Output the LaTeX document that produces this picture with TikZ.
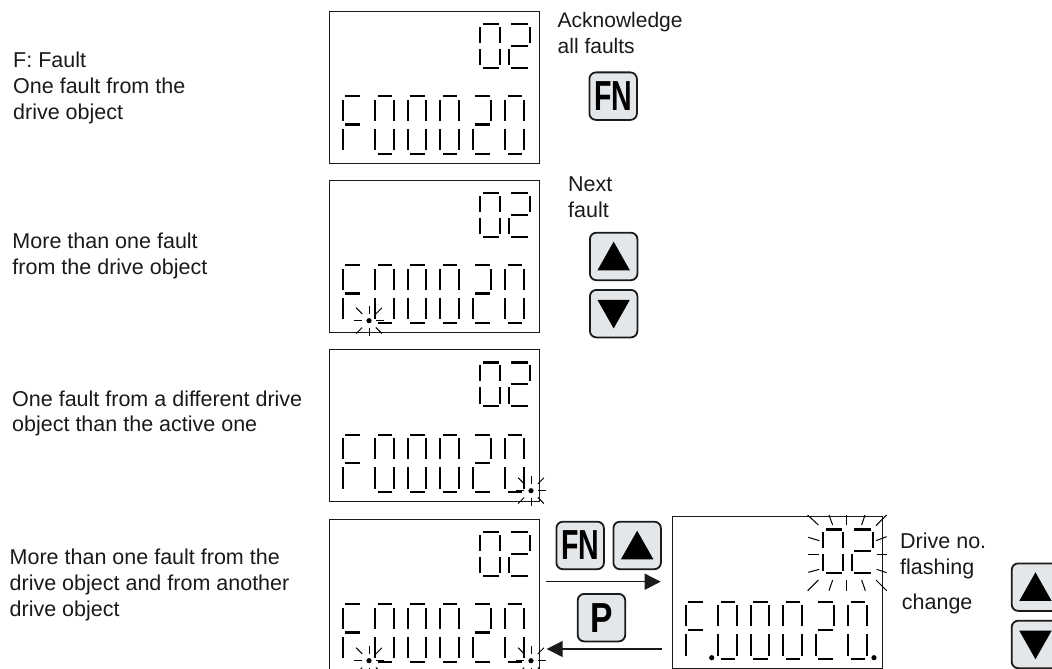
\documentclass[tikz,border=0pt]{standalone}
\usepackage{fontspec}
\setmainfont{Liberation Sans}
\usetikzlibrary{arrows.meta}
\definecolor{ink}{HTML}{1A1A1A}
\definecolor{keyfill}{HTML}{E3E7EA}
\tikzset{
  panel/.style={draw=ink,line width=1.1pt,anchor=north west,inner sep=0pt,minimum width=210pt,minimum height=152pt},
  seg/.style={draw=black,line width=2.1pt},
  ray/.style={draw=black,line width=1pt},
  keybtn/.style={draw=ink,line width=1.8pt,fill=keyfill,rounded corners=6.5pt,minimum width=47.5pt,minimum height=47.5pt,inner sep=0pt,anchor=north west,font=\fontsize{42}{42}\selectfont\bfseries},
  lbl/.style={anchor=base west,inner sep=0pt,align=left,text=ink,font=\fontsize{21.5}{25.6}\selectfont},
  flow/.style={draw=ink,line width=1.1pt,-{Triangle[length=16pt,width=16pt]}}
}
\def\sA{(\dw*.13,0)--(\dw*.92,0)}
\def\sG{(\dw*.13,\dh*.49)--(\dw*.92,\dh*.49)}
\def\sD{(\dw*.13,\dh)--(\dw*.92,\dh)}
\def\sF{(0,\dh*.06)--(0,\dh*.43)}
\def\sE{(0,\dh*.56)--(0,\dh*.94)}
\def\sB{(\dw,\dh*.06)--(\dw,\dh*.43)}
\def\sC{(\dw,\dh*.56)--(\dw,\dh*.94)}
\newcommand{\DigF}[2]{\draw[seg,shift={(#1,#2)}] \sA \sF \sG \sE;}
\newcommand{\DigO}[2]{\draw[seg,shift={(#1,#2)}] \sA \sF \sB \sE \sC \sD;}
\newcommand{\DigT}[2]{\draw[seg,shift={(#1,#2)}] \sA \sB \sG \sE \sD;}
% digits of a display whose top-left corner is (#1,#2)
\newcommand{\Readout}[2]{%
  \def\dw{20}\def\dh{43.7}%
  \DigO{#1+151}{#2+13.2}%
  \def\dw{21}%
  \DigT{#1+179.3}{#2+13.2}%
  \def\dw{18.4}\def\dh{57.4}%
  \DigF{#1+13.7}{#2+85.4}%
  \DigO{#1+46}{#2+85.4}%
  \DigO{#1+78.4}{#2+85.4}%
  \DigO{#1+111}{#2+85.4}%
  \DigT{#1+143.6}{#2+85.4}%
  \DigO{#1+176}{#2+85.4}%
}
\newcommand{\Flash}[2]{%
  \fill[black] (#1,#2) circle (2.6pt);
  \foreach \a in {0,90,180,270} \draw[ray,shift={(#1,#2)}] (\a:7pt) -- (\a:15pt);
  \foreach \a in {45,135,225,315} \draw[ray,shift={(#1,#2)}] (\a:9.6pt) -- (\a:18.2pt);
}
\newcommand{\KeyUp}[3]{%
  \node[keybtn] (#1) at (#2,#3) {};
  \fill[black] ([shift={(0pt,14.8pt)}]#1.center) -- ([shift={(-16.2pt,-13.8pt)}]#1.center) -- ([shift={(16.2pt,-13.8pt)}]#1.center) -- cycle;
}
\newcommand{\KeyDown}[3]{%
  \node[keybtn] (#1) at (#2,#3) {};
  \fill[black] ([shift={(0pt,-14.8pt)}]#1.center) -- ([shift={(-16.2pt,13.8pt)}]#1.center) -- ([shift={(16.2pt,13.8pt)}]#1.center) -- cycle;
}
\begin{document}
\begin{tikzpicture}[x=1pt,y=-1pt]
\useasboundingbox (0,0) rectangle (1052,669);
\clip (0,0) rectangle (1052,669);
% displays
\node[panel] (d1) at (329.3,11) {};
\Readout{329.3}{11}
\node[panel] (d2) at (329.3,180) {};
\Readout{329.3}{180}
\Flash{369}{320.7}
\node[panel] (d3) at (329.3,349.3) {};
\Readout{329.3}{349.3}
\Flash{531}{490.7}
\node[panel] (d4) at (329.3,519) {};
\Readout{329.3}{519}
\Flash{369}{660.7}
\Flash{531}{660.7}
\node[panel] (d5) at (672.3,516.3) {};
\Readout{672.3}{516.3}
\fill[black] (711.7,657.7) circle (2.6pt) (874,657.7) circle (2.6pt);
% flashing drive number
\begin{scope}[shift={(680,500)},x=.3333pt,y=-.3333pt]
\foreach \xa/\ya/\xb/\yb in {383/45/415/75,447/45/458/75,500/45/500/75,555/45/545/75,620/45/588/77,620/110/588/122,590/162/620/162,590/208/620/218,588/240/620/272,545/240/556/272,500/240/500/272,458/240/447/272,415/240/383/272,385/112/418/122,385/162/418/162,385/217/418/208}
  \draw[ray] (\xa,\ya) -- (\xb,\yb);
\end{scope}
% keys
\node[keybtn] (fn1) at (588.5,71.5) {\scalebox{.68}[1]{FN}};
\KeyUp{up1}{589}{231.8}
\KeyDown{down1}{589}{289}
\node[keybtn] (fn2) at (555.5,520.8) {\scalebox{.68}[1]{FN}};
\KeyUp{up2}{612.5}{520.8}
\node[keybtn] (pk) at (576.8,593) {\scalebox{.8}[1]{P}};
\KeyUp{up3}{1010.8}{562.5}
\KeyDown{down3}{1010.8}{619.8}
% arrows
\coordinate (a1s) at (545.7,581.7);
\coordinate (a1e) at (660.7,581.7);
\coordinate (a2s) at (661.7,649);
\coordinate (a2e) at (546.7,649);
\draw[flow] (a1s) -- (a1e);
\draw[flow] (a2s) -- (a2e);
% labels
\node[lbl] (t1) at (13,119) {F: Fault\\One fault from the\\drive object};
\node[lbl] (t2) at (12.3,274) {More than one fault\\from the drive object};
\node[lbl] (t3) at (12,431.7) {One fault from a different drive\\object than the active one};
\node[lbl] (t4) at (9.5,616) {More than one fault from the\\drive object and from another\\drive object};
\node[lbl,font=\fontsize{21}{25.6}\selectfont] (t5) at (557.5,53.3) {Acknowledge\\all faults};
\node[lbl] (t6) at (568,217.3) {Next\\fault};
\node[lbl] (t7) at (900,574) {Drive no.\\flashing};
\node[lbl] (t8) at (901.7,609.3) {change};
\end{tikzpicture}
\end{document}
